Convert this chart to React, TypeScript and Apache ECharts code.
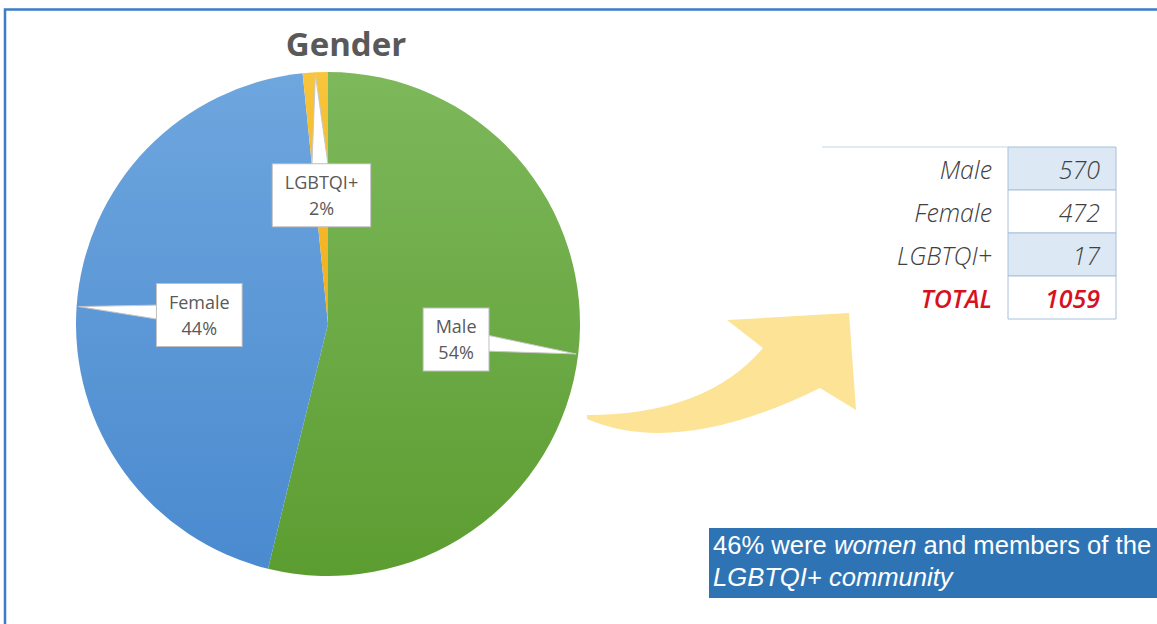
import { useEffect, useRef } from "react";
import * as echarts from "echarts";

// ---- data ----
const titleText = "Gender";
const categories = ["Male", "Female", "LGBTQI+"];
const counts = [570, 472, 17];
const percentLabels = ["54%", "44%", "2%"];
const totalLabel = "TOTAL";
const totalValue = 1059;
const noteLine1Parts = ["46% were ", "women", " and members of the"];
const noteLine2 = "LGBTQI+ community";

// ---- styling ----
const sliceColors = [
  ["#7db85b", "#5c9d31"],
  ["#6ea6de", "#4a8acf"],
  ["#f8c53c", "#f1ae1c"],
];
const CX = 328;
const CY = 324;
const R = 252;

const ARROW_D =
  "M 587 415 Q 706 415 763 348 L 727 320 L 849 313 L 856 410 L 820 388 Q 678 458 587 419 Z";

let registered = false;
function ensureShapes() {
  if (registered) return;
  echarts.graphic.registerShape("curvedArrow", echarts.graphic.extendPath(ARROW_D, {}));
  registered = true;
}

export default function App() {
  const ref = useRef<HTMLDivElement>(null);
  useEffect(() => {
    if (!ref.current) return;
    ensureShapes();
    const chart = echarts.init(ref.current, undefined, { renderer: "svg" });
    const total = counts.reduce((a, b) => a + b, 0);

    const pieData = categories.map((name, i) => ({
      name,
      value: counts[i],
      itemStyle: {
        color: new echarts.graphic.LinearGradient(0, 0, 0, 1, [
          { offset: 0, color: sliceColors[i][0] },
          { offset: 1, color: sliceColors[i][1] },
        ]),
      },
    }));

    const rowTop = 147;
    const rowH = 43;
    const valX = 1008;
    const valW = 108;
    const tableRows = [
      ...categories.map((c, i) => ({ label: c, value: String(counts[i]), total: false })),
      { label: totalLabel, value: String(totalValue), total: true },
    ];
    const tableEls: any[] = [];
    tableEls.push({
      type: "line",
      shape: { x1: 822, y1: rowTop, x2: valX, y2: rowTop },
      style: { stroke: "#c5d5e6", lineWidth: 1 },
    });
    tableRows.forEach((r, i) => {
      const y = rowTop + i * rowH;
      tableEls.push({
        type: "rect",
        shape: { x: valX, y, width: valW, height: rowH },
        style: { fill: i % 2 === 0 && !r.total ? "#dde8f5" : "#ffffff", stroke: "#a7c0dc", lineWidth: 1 },
      });
      const textStyle = {
        fontFamily: "Open Sans",
        fontSize: 25,
        fontStyle: "italic",
        fontWeight: r.total ? 600 : 300,
        fill: r.total ? "#d7121f" : "#404040",
        textAlign: "right",
        textVerticalAlign: "middle",
      };
      tableEls.push({ type: "text", x: 992, y: y + rowH / 2, style: { ...textStyle, text: r.label } });
      tableEls.push({ type: "text", x: 1100, y: y + rowH / 2, style: { ...textStyle, text: r.value } });
    });

    chart.setOption({
      animation: false,
      backgroundColor: "#ffffff",
      graphic: [
        {
          type: "rect",
          z: 0,
          shape: { x: 5, y: 9.5, width: 1300, height: 800 },
          style: { fill: "none", stroke: "#3d7cc9", lineWidth: 2.5 },
        },
        {
          type: "text",
          x: 346,
          y: 43,
          style: {
            text: titleText,
            fontFamily: "Open Sans",
            fontWeight: "bold",
            fontSize: 33,
            fill: "#595959",
            textAlign: "center",
            textVerticalAlign: "middle",
          },
        },
        { type: "curvedArrow", x: 0, y: 0, style: { fill: "#fde395" } },
        ...tableEls,
        {
          type: "rect",
          shape: { x: 709, y: 528, width: 460, height: 70 },
          style: { fill: "#2e74b5" },
        },
        {
          type: "text",
          x: 713,
          y: 529,
          style: {
            text:
              `{n|${noteLine1Parts[0]}}{i|${noteLine1Parts[1]}}{n|${noteLine1Parts[2]}}\n{i|${noteLine2}}`,
            fill: "#ffffff",
            fontFamily: "Liberation Sans",
            fontSize: 25.6,
            lineHeight: 32,
            textAlign: "left",
            textVerticalAlign: "top",
            rich: {
              n: { fontFamily: "Liberation Sans", fontSize: 25.6, lineHeight: 32, fill: "#ffffff" },
              i: { fontFamily: "Liberation Sans", fontSize: 25.6, lineHeight: 32, fontStyle: "italic", fill: "#ffffff" },
            },
          },
        },
      ],
      series: [
        {
          type: "pie",
          z: 2,
          center: [CX, CY],
          radius: R,
          startAngle: 90,
          clockwise: true,
          silent: true,
          label: { show: false },
          labelLine: { show: false },
          emphasis: { disabled: true },
          data: pieData,
        },
        {
          type: "custom",
          z: 3,
          coordinateSystem: "none",
          silent: true,
          data: counts,
          renderItem: (params: any) => {
            const i = params.dataIndex;
            let before = 0;
            for (let j = 0; j < i; j++) before += counts[j];
            const mid = ((before + counts[i] / 2) / total) * Math.PI * 2;
            const dx = Math.sin(mid);
            const dy = -Math.cos(mid);
            const bx = CX + (dx * R) / 2;
            const by = CY + (dy * R) / 2;
            const tx = CX + dx * (R - 2);
            const ty = CY + dy * (R - 2);
            const px = -dy;
            const py = dx;
            const hw = 11;
            return {
              type: "polygon",
              shape: {
                points: [
                  [tx, ty],
                  [bx + px * hw, by + py * hw],
                  [bx - px * hw, by - py * hw],
                ],
              },
              style: { fill: "#ffffff", stroke: "#c8c8c8", lineWidth: 1 },
            };
          },
        },
        {
          type: "pie",
          z: 4,
          center: [CX, CY],
          radius: R,
          startAngle: 90,
          clockwise: true,
          silent: true,
          emphasis: { disabled: true },
          itemStyle: { color: "rgba(0,0,0,0)" },
          labelLine: { show: false },
          label: {
            show: true,
            position: "inside",
            formatter: (p: any) => `${p.name}\n${percentLabels[p.dataIndex]}`,
            color: "#595959",
            fontFamily: "Open Sans",
            fontSize: 18,
            lineHeight: 26,
            align: "center",
            backgroundColor: "#ffffff",
            borderColor: "#bfbfbf",
            borderWidth: 1,
            padding: [5, 12],
          },
          data: categories.map((name, i) => ({ name, value: counts[i] })),
        },
      ],
    });
    return () => chart.dispose();
  }, []);
  return (
    <div
      ref={ref}
      style={{ position: "absolute", left: 0, top: 0, width: 1157, height: 624, background: "#fff" }}
    />
  );
}
